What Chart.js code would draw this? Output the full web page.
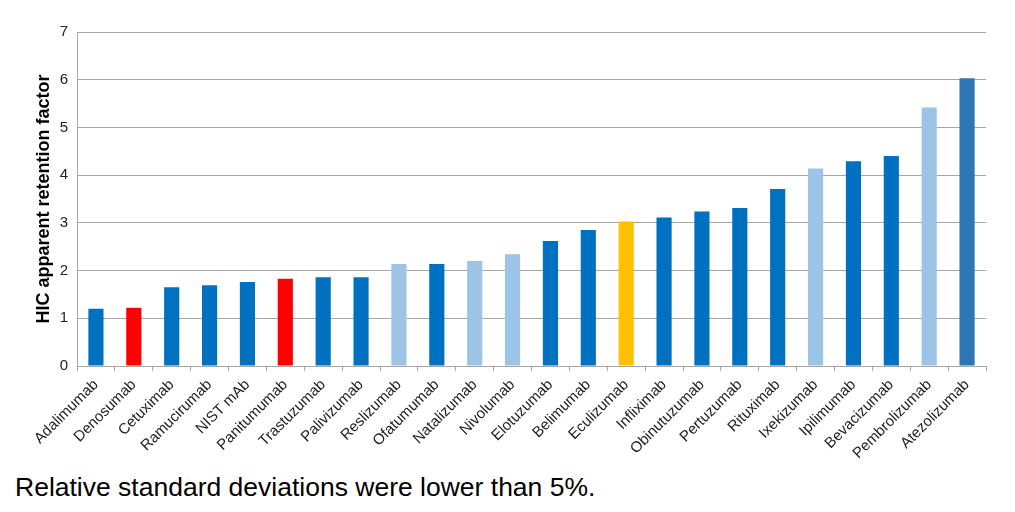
<!DOCTYPE html>
<html>
<head>
<meta charset="utf-8">
<script src="https://cdn.jsdelivr.net/npm/chart.js@4"></script>
<style>
  body { margin: 0; background: #fff; }
  #wrap { position: relative; width: 1015px; height: 465px; }
  #note {
    position: absolute; left: 15px; top: 472px;
    font-family: "Liberation Sans", Arial, sans-serif;
    font-size: 26.5px; color: #000;
  }
</style>
</head>
<body>
<div id="wrap"><canvas id="hicChart"></canvas></div>
<div id="note">Relative standard deviations were lower than 5%.</div>
<script>
// Antibodies, sorted by retention
const antibodies = [
    'Adalimumab', 'Denosumab', 'Cetuximab', 'Ramucirumab', 'NIST mAb',
    'Panitumumab', 'Trastuzumab', 'Palivizumab', 'Reslizumab', 'Ofatumumab',
    'Natalizumab', 'Nivolumab', 'Elotuzumab', 'Belimumab', 'Eculizumab',
    'Infliximab', 'Obinutuzumab', 'Pertuzumab', 'Rituximab', 'Ixekizumab',
    'Ipilimumab', 'Bevacizumab', 'Pembrolizumab', 'Atezolizumab'
];
const retention = [
    1.20, 1.22, 1.65, 1.69, 1.76,
    1.83, 1.86, 1.86, 2.14, 2.14,
    2.20, 2.34, 2.62, 2.85, 3.03,
    3.11, 3.24, 3.31, 3.71, 4.14,
    4.29, 4.40, 5.42, 6.03
];
// colour group of each bar
const groups = [
    'blue', 'red', 'blue', 'blue', 'blue',
    'red', 'blue', 'blue', 'light', 'blue',
    'light', 'light', 'blue', 'blue', 'yellow',
    'blue', 'blue', 'blue', 'blue', 'light',
    'blue', 'blue', 'light', 'mid'
];
const yTicks = [0, 1, 2, 3, 4, 5, 6, 7];

const palette = {
    blue: '#0070c0',
    light: '#9dc3e6',
    red: '#ff0000',
    yellow: '#ffc000',
    mid: '#2e75b6'
};

const font = '"Liberation Sans", Arial, sans-serif';
const gridColor = '#a6a6a6';

const ctx = document.getElementById('hicChart').getContext('2d');
new Chart(ctx, {
    type: 'bar',
    data: {
        labels: antibodies,
        datasets: [{
            data: retention,
            backgroundColor: groups.map(g => palette[g]),
            categoryPercentage: 1,
            barPercentage: 0.4
        }]
    },
    options: {
        responsive: true,
        maintainAspectRatio: false,
        animation: false,
        layout: { padding: { top: 32, right: 29, left: 33, bottom: 0 } },
        plugins: {
            legend: { display: false },
            tooltip: { enabled: false }
        },
        scales: {
            x: {
                grid: {
                    offset: true,
                    drawOnChartArea: false,
                    color: gridColor,
                    tickLength: 5
                },
                border: { color: gridColor },
                ticks: {
                    minRotation: 45,
                    maxRotation: 45,
                    autoSkip: false,
                    color: '#222',
                    font: { family: font, size: 15 },
                    padding: 5
                },
                afterFit: scale => { scale.height = 99; }
            },
            y: {
                min: 0,
                max: 7,
                afterBuildTicks: scale => {
                    scale.ticks = yTicks.map(v => ({ value: v }));
                },
                grid: {
                    color: gridColor,
                    drawTicks: false
                },
                border: { color: gridColor },
                ticks: {
                    color: '#222',
                    font: { family: font, size: 15 },
                    padding: 9
                },
                title: {
                    display: true,
                    text: 'HIC apparent retention factor',
                    color: '#000',
                    font: { family: font, size: 18, weight: 'bold' },
                    padding: { top: 0, bottom: 0 }
                },
                afterFit: scale => { scale.width = 44; }
            }
        }
    }
});
</script>
</body>
</html>
